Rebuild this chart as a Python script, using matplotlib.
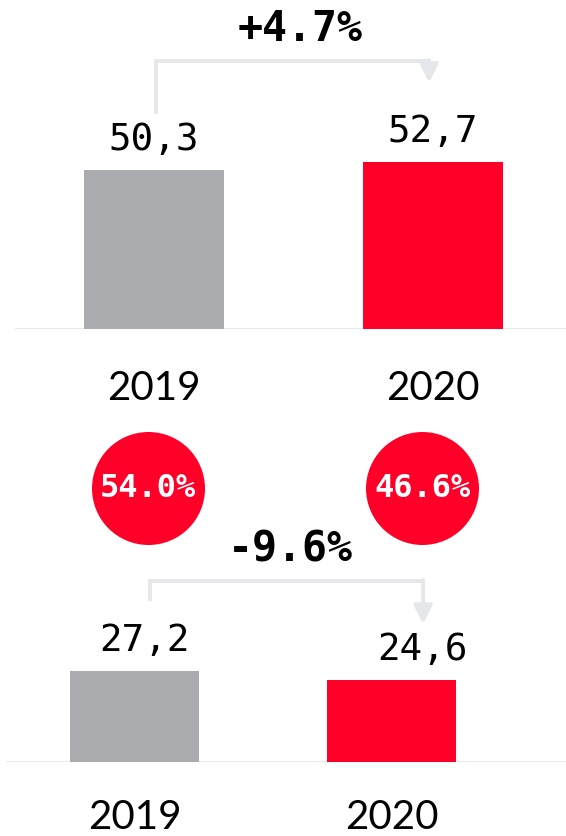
import matplotlib.pyplot as plt

# data
years = ["2019", "2020"]
top_values = [50.3, 52.7]
top_labels = ["50,3", "52,7"]
top_change = "+4.7%"
bottom_values = [27.2, 24.6]
bottom_labels = ["27,2", "24,6"]
bottom_change = "-9.6%"
shares = ["54.0%", "46.6%"]

GRAY = "#abacb0"
RED = "#ff0029"
BASE = "#e1e1e1"
BRACKET = "#e6e7eb"
MONO = "DejaVu Sans Mono"
SANS = "Lato"

W, H = 566, 837
fig = plt.figure(figsize=(W / 100, H / 100), dpi=100)


def px_axes(left, top, right, bottom):
    return fig.add_axes([left / W, 1 - bottom / H, (right - left) / W, (bottom - top) / H])


def pt(px):
    return px * 0.72


def draw_panel(ax, values, labels, change, height_px, ky, label_dx, year_dy,
               bracket_x, bracket_px, change_dx):
    """ky: pixels per data unit; bracket_px: (left start, top, arrow tip) px above bar tops."""
    x = list(range(len(values)))
    ax.bar(x, values, width=0.5, color=[GRAY, RED])
    ax.axhline(0, color=BASE, lw=1.8, zorder=0)

    for i, (v, lab) in enumerate(zip(values, labels)):
        ax.annotate(lab, (i, v), xytext=(pt(label_dx[i]), pt(21)), textcoords="offset points",
                    ha="center", va="baseline", fontsize=27, family=MONO)
        ax.annotate(years[i], (i, 0), xytext=(0, pt(year_dy)), textcoords="offset points",
                    ha="center", va="baseline", fontsize=29, family=SANS)

    # change bracket
    x0, x1 = bracket_x
    y_start = values[0] + bracket_px[0] / ky
    y_top = values[0] + bracket_px[1] / ky
    y_tip = values[1] + bracket_px[2] / ky
    ax.plot([x0, x0, x1], [y_start, y_top, y_top], color=BRACKET, lw=2.8,
            solid_joinstyle="miter", clip_on=False)
    ax.annotate("", xy=(x1, y_tip), xytext=(x1, y_top + 1 / ky),
                arrowprops=dict(arrowstyle="-|>,head_length=0.55,head_width=0.28",
                                mutation_scale=20, color=BRACKET, lw=2.8,
                                shrinkA=0, shrinkB=0),
                annotation_clip=False)
    ax.annotate(change, ((x0 + x1) / 2, y_top), xytext=(pt(change_dx), pt(33)),
                textcoords="offset points", ha="center", va="center",
                fontsize=30, fontweight="bold", family=MONO)

    ax.set_ylim(0, height_px / ky)
    ax.axis("off")


# top panel
ax_top = px_axes(15, 0, 566, 330)
kx_top = 279
ax_top.set_xlim(-(154 - 15) / kx_top, (566 - 154) / kx_top)
draw_panel(ax_top, top_values, top_labels, top_change, height_px=330, ky=3.16,
           label_dx=[0, 0], year_dy=-70, bracket_x=(0.007, 0.986),
           bracket_px=(58, 109, 80), change_dx=8)

# bottom panel
ax_bot = px_axes(6, 560, 566, 763)
kx_bot = 257
ax_bot.set_xlim(-(134.5 - 6) / kx_bot, (566 - 134.5) / kx_bot)
draw_panel(ax_bot, bottom_values, bottom_labels, bottom_change, height_px=203, ky=3.34,
           label_dx=[10.5, 31.5], year_dy=-66, bracket_x=(0.06, 1.123),
           bracket_px=(72, 90, 56), change_dx=4)

# share circles
ax_c = px_axes(0, 430, 566, 548)
kx_c = 274.5
ax_c.set_xlim(-148 / kx_c, (566 - 148) / kx_c)
ax_c.set_ylim(-1, 1)
ax_c.scatter(range(len(shares)), [0] * len(shares), s=(113 * 0.72) ** 2, color=RED, linewidths=0)
for i, s in enumerate(shares):
    ax_c.text(i, 0, s, ha="center", va="center", color="white", fontsize=23,
              fontweight="bold", family=MONO)
ax_c.axis("off")

fig.savefig("out.png", dpi=100)
